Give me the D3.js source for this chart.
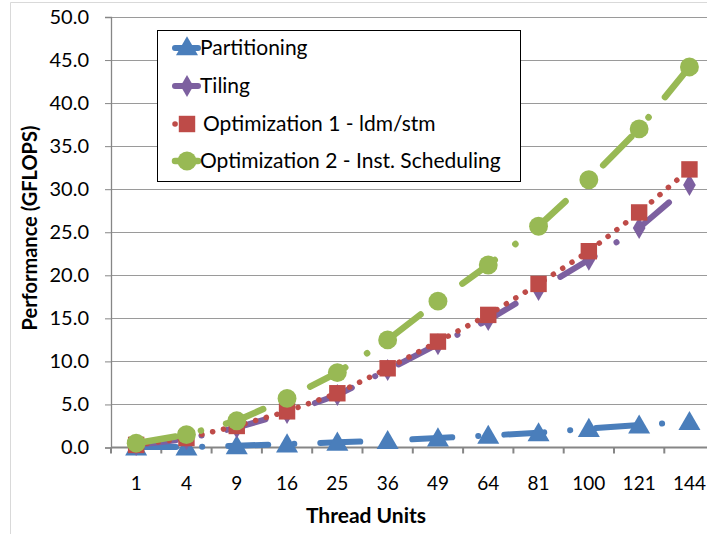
<!DOCTYPE html>
<html>
<head>
<meta charset="utf-8">
<script src="https://cdn.jsdelivr.net/npm/d3@7"></script>
<style>
body { margin: 0; background: #fff; }
text { font-family: Lato, "Open Sans", sans-serif; fill: #000; }
</style>
</head>
<body>
<div id="chart-area"></div>
<script>
// thread units on the x axis
var categories = ["1", "4", "9", "16", "25", "36", "49", "64", "81", "100", "121", "144"];

// GFLOPS
var partitioning = [0.05, 0.05, 0.2, 0.4, 0.6, 0.8, 1.1, 1.4, 1.7, 2.2, 2.6, 3.0];
var tiling = [0.3, 1.0, 2.3, 4.0, 6.1, 9.0, 12.0, 14.8, 18.3, 21.8, 25.5, 30.5];
var opt1 = [0.3, 1.1, 2.5, 4.2, 6.3, 9.2, 12.3, 15.4, 19.0, 22.8, 27.3, 32.3];
var opt2 = [0.5, 1.5, 3.1, 5.7, 8.7, 12.5, 17.0, 21.2, 25.7, 31.1, 37.0, 44.2];

var yTicks = [0, 5, 10, 15, 20, 25, 30, 35, 40, 45, 50];

var width_chart_area = 707;
var height_chart_area = 534;

var svg = d3.select("#chart-area").append("svg")
	.attr("width", width_chart_area)
	.attr("height", height_chart_area);

// outer chart border (only left and top show)
svg.append("path")
	.attr("d", "M10.5,534 V2.5 H707")
	.attr("fill", "none")
	.attr("stroke", "#d9d9d9")
	.attr("stroke-width", 1);

var x = d3.scaleBand()
	.domain(categories)
	.range([111, 111 + 12 * 50.3]);

var y = d3.scaleLinear()
	.domain([0, 50])
	.range([447.5, 17]);

// gridlines
svg.append("g")
	.selectAll("line")
	.data(yTicks.slice(1))
	.enter().append("line")
		.attr("x1", 111)
		.attr("x2", width_chart_area)
		.attr("y1", function(d){ return Math.round(y(d)) + 0.5; })
		.attr("y2", function(d){ return Math.round(y(d)) + 0.5; })
		.attr("stroke", "#9a9a9a")
		.attr("stroke-width", 1.2);

// y axis
var yAxis = svg.append("g")
	.attr("transform", "translate(111,0)")
	.call(d3.axisLeft(y).tickValues(yTicks).tickSize(6).tickPadding(16)
		.tickFormat(function(d){ return d.toFixed(1); }));
yAxis.select(".domain").attr("stroke", "#868686").attr("stroke-width", 1.3);
yAxis.selectAll(".tick line").attr("stroke", "#868686");
yAxis.selectAll(".tick text")
	.style("font-size", "20px")
	.style("font-family", "Lato, sans-serif");

// x axis, ticks between categories
var xAxisG = svg.append("g")
	.attr("transform", "translate(0," + y(0) + ")");
xAxisG.append("line")
	.attr("x1", 111).attr("x2", width_chart_area)
	.attr("stroke", "#868686").attr("stroke-width", 2);
xAxisG.selectAll(".tk")
	.data(categories)
	.enter().append("line")
		.attr("class", "tk")
		.attr("x1", function(d){ return x(d); })
		.attr("x2", function(d){ return x(d); })
		.attr("y1", 0).attr("y2", 6)
		.attr("stroke", "#868686").attr("stroke-width", 2);
xAxisG.selectAll("text")
	.data(categories)
	.enter().append("text")
		.attr("x", function(d){ return x(d) + x.bandwidth() / 2; })
		.attr("y", 42)
		.attr("text-anchor", "middle")
		.style("font-size", "19px")
		.text(function(d){ return d; });

// axis titles
svg.append("text")
	.attr("x", 366).attr("y", 523)
	.attr("text-anchor", "middle")
	.style("font-size", "21px").style("font-weight", "bold")
	.text("Thread Units");
svg.append("text")
	.attr("transform", "translate(37,228) rotate(-90)")
	.attr("text-anchor", "middle")
	.style("font-size", "20px").style("font-weight", "bold")
	.text("Performance (GFLOPS)");

var cx = function(d, i){ return x(categories[i]) + x.bandwidth() / 2; };

var series = [
	{ name: "Partitioning", values: partitioning, color: "#4a7ebb", width: 6, dash: "40 26 0.1 26", shape: "triangle" },
	{ name: "Tiling", values: tiling, color: "#7d60a0", width: 6, dash: "40 26 0.1 26", shape: "diamond" },
	{ name: "Optimization 1 - ldm/stm", values: opt1, color: "#be4b48", width: 5.5, dash: "0.1 11", shape: "square" },
	{ name: "Optimization 2 - Inst. Scheduling", values: opt2, color: "#98b954", width: 6.5, dash: "40 26 0.1 26", shape: "circle" }
];

var symbols = {
	triangle: d3.symbol().type(d3.symbolTriangle).size(210),
	diamond: d3.symbol().type(d3.symbolDiamond).size(140),
	square: d3.symbol().type(d3.symbolSquare).size(270),
	circle: d3.symbol().type(d3.symbolCircle).size(280)
};

var line = d3.line()
	.x(cx)
	.y(function(d){ return y(d); });

series.forEach(function(s){
	svg.append("path")
		.datum(s.values)
		.attr("d", line)
		.attr("fill", "none")
		.attr("stroke", s.color)
		.attr("stroke-width", s.width)
		.attr("stroke-linecap", "round")
		.attr("stroke-dasharray", s.dash);

	svg.append("g")
		.selectAll("path")
		.data(s.values)
		.enter().append("path")
			.attr("d", symbols[s.shape])
			.attr("transform", function(d, i){
				var yy = y(d) + (s.shape == "triangle" ? 2 : 0);
				return "translate(" + cx(d, i) + "," + yy + ")";
			})
			.attr("fill", s.color);
});

// legend
var legend = svg.append("g");
legend.append("rect")
	.attr("x", 157.5).attr("y", 30.5)
	.attr("width", 363).attr("height", 151)
	.attr("fill", "#fff")
	.attr("stroke", "#000").attr("stroke-width", 1);

var legendY = [48, 86, 124, 161];

series.forEach(function(s, i){
	var ly = legendY[i];
	legend.append("line")
		.attr("x1", 175).attr("x2", 198)
		.attr("y1", ly).attr("y2", ly)
		.attr("stroke", s.color)
		.attr("stroke-width", s.width)
		.attr("stroke-linecap", "round")
		.attr("stroke-dasharray", s.shape == "square" ? "0.1 40" : null);
	legend.append("path")
		.attr("d", symbols[s.shape])
		.attr("transform", "translate(187," + (ly + (s.shape == "triangle" ? 1 : 0)) + ")")
		.attr("fill", s.color);
	legend.append("text")
		.attr("x", s.shape == "square" ? 203 : 200)
		.attr("y", ly + 7)
		.style("font-size", "21px")
		.text(s.name);
});
</script>
</body>
</html>
